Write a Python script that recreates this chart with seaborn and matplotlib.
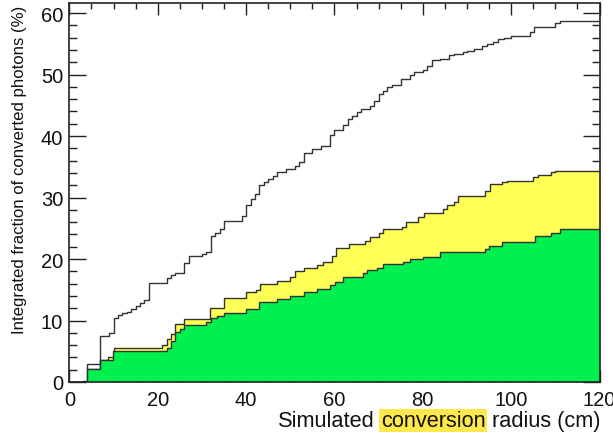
import numpy as np
import pandas as pd
import matplotlib
matplotlib.use("Agg")
import matplotlib.pyplot as plt
import seaborn as sns
from matplotlib.ticker import MultipleLocator

# ---- data (cumulative fraction of converted photons, %, step starts at radius) ----
r_total = [0, 3, 4, 7, 9, 10, 11, 12, 13, 14, 15, 16, 17, 18, 22, 23, 24, 26, 27,
           30, 31, 32, 33, 34, 35, 39, 40, 41, 42, 43, 44, 45, 46, 47, 49, 51, 52,
           53, 55, 57, 59, 60, 62, 63, 64, 65, 66, 68, 69, 70, 71, 72, 73, 75, 77,
           78, 80, 81, 82, 84, 86, 87, 89, 90, 91.5, 93.4, 94.5, 96, 97, 98.3, 100,
           104.2, 105.1, 110, 111, 120]
v_total = [0.0, 0.15, 2.9, 7.5, 8.0, 10.4, 10.9, 11.2, 11.4, 11.9, 12.4, 12.8, 13.4,
           16.1, 16.9, 17.4, 17.8, 19.3, 20.5, 20.8, 21.2, 23.8, 24.3, 24.8, 26.2,
           27.0, 28.8, 29.8, 30.6, 32.0, 32.6, 33.0, 33.5, 34.1, 34.6, 35.1, 35.8,
           37.3, 37.9, 38.3, 40.2, 40.9, 41.8, 42.8, 43.2, 43.9, 44.4, 44.9, 45.7,
           46.8, 47.4, 47.9, 48.3, 49.2, 49.9, 50.4, 50.8, 51.4, 52.4, 52.6, 53.1,
           53.3, 53.6, 53.9, 54.2, 54.6, 55.0, 55.3, 55.7, 55.9, 56.3, 56.9, 57.7,
           58.4, 58.7, 58.7]

r_yellow = [3.9, 6.9, 8.8, 10, 21, 22, 23, 24, 26, 31.8, 35, 40, 42.3, 43.2, 47, 50,
            51, 53, 56, 57.5, 59.4, 60.3, 63.2, 67, 68, 70, 71, 75.2, 76.2, 79, 80.2,
            84.5, 85.5, 87, 88, 94, 95.2, 98, 99, 105, 106, 109, 110, 120]
v_yellow = [2.1, 3.5, 4.0, 5.6, 6.0, 7.0, 7.8, 9.4, 10.2, 12.0, 13.6, 14.6, 15.0,
            15.9, 16.5, 17.0, 18.1, 18.6, 19.0, 19.5, 20.5, 21.8, 22.4, 23.0, 23.5,
            24.2, 24.8, 25.2, 26.0, 26.9, 27.5, 28.1, 28.8, 29.3, 30.3, 31.1, 32.2,
            32.6, 32.7, 33.3, 33.6, 34.1, 34.3, 34.3]

r_green = [3.9, 6.9, 9.9, 22, 23, 24, 25, 26, 31, 32, 33.5, 35, 40, 43, 47, 50, 53,
           56, 59, 60.2, 62, 66.5, 67.3, 69.6, 71, 75.5, 77, 80, 84, 94, 95, 98,
           105.5, 109, 111, 120]
v_green = [2.1, 3.5, 5.0, 5.6, 6.7, 8.1, 8.6, 9.3, 9.8, 10.4, 10.7, 11.3, 11.9,
           13.0, 13.5, 14.0, 14.7, 15.1, 15.7, 16.2, 17.1, 17.8, 18.2, 18.6, 19.2,
           19.5, 20.0, 20.4, 21.2, 21.7, 22.1, 22.8, 23.7, 24.3, 24.8, 24.8]

df_total = pd.DataFrame({"r": r_total, "v": v_total})
df_yellow = pd.DataFrame({"r": r_yellow, "v": v_yellow})
df_green = pd.DataFrame({"r": r_green, "v": v_green})

sns.set_style("ticks")
plt.rcParams["font.family"] = ["Liberation Sans", "DejaVu Sans"]

W, H = 613, 435
fig = plt.figure(figsize=(W / 100, H / 100), dpi=100)
ax = fig.add_axes([69.4 / W, 1 - 383 / H, 530.1 / W, 379 / H])

yellow = "#ffff55"
green = "#00f050"
edge = "#333333"

# yellow area
ax.fill_between(df_yellow["r"], 0, df_yellow["v"], step="post", color=yellow,
                linewidth=0, zorder=2)
ax.vlines(df_yellow["r"].iloc[0], 0, df_yellow["v"].iloc[0], color=edge, lw=1.0, zorder=3)
sns.lineplot(data=df_yellow, x="r", y="v", drawstyle="steps-post", color=edge,
             lw=1.0, ax=ax, zorder=3, sort=False)
# green area
ax.fill_between(df_green["r"], 0, df_green["v"], step="post", color=green,
                linewidth=0, zorder=4)
sns.lineplot(data=df_green, x="r", y="v", drawstyle="steps-post", color=edge,
             lw=1.0, ax=ax, zorder=5, sort=False)
# total
sns.lineplot(data=df_total, x="r", y="v", drawstyle="steps-post", color=edge,
             lw=1.0, ax=ax, zorder=6, sort=False)

ax.set_xlim(0, 120)
ax.set_ylim(0, 61.63)
ax.set_xlabel("")
ax.set_ylabel("")

ax.xaxis.set_major_locator(MultipleLocator(20))
ax.xaxis.set_minor_locator(MultipleLocator(5))
ax.yaxis.set_major_locator(MultipleLocator(10))
ax.yaxis.set_minor_locator(MultipleLocator(2))
ax.tick_params(axis="both", which="both", direction="in", top=True, right=True,
               color="#222222", width=1.0, labelsize=14.5, labelcolor="#111111")
ax.tick_params(axis="x", which="major", length=8.5, pad=6)
ax.tick_params(axis="x", which="minor", length=4.3)
ax.tick_params(axis="y", which="major", length=12, pad=4.5)
ax.tick_params(axis="y", which="minor", length=6)
for s in ax.spines.values():
    s.set_linewidth(1.2)
    s.set_color("#222222")
    s.set_zorder(10)
    s.set_visible(True)

# x label with highlighted word, right-aligned to the axis end
fs = 15.7
t1 = fig.text(279 / W, 1 - 427 / H, "Simulated", fontsize=fs, ha="left",
              va="baseline", color="#111111")
t2 = ax.annotate("conversion", xy=(1, 0), xycoords=t1, xytext=(4.4, 0),
                 textcoords="offset points", ha="left", va="bottom", fontsize=fs,
                 color="#111111",
                 bbox=dict(boxstyle="square,pad=0.06", fc="#ffe94a", ec="none"),
                 annotation_clip=False)
t3 = ax.annotate("radius (cm)", xy=(1, 0), xycoords=t2, xytext=(4.4, 0),
                 textcoords="offset points", ha="left", va="bottom", fontsize=fs,
                 color="#111111", annotation_clip=False)
fig.canvas.draw()
shift = 600 - t3.get_window_extent().x1
x0, y0 = t1.get_position()
t1.set_x(x0 + shift / W)

fig.text(19.5 / W, 1 - 6 / H, "Integrated fraction of converted photons (%)",
         rotation=90, ha="center", va="top", fontsize=12.1, color="#111111")

fig.savefig("out.png", dpi=100)
